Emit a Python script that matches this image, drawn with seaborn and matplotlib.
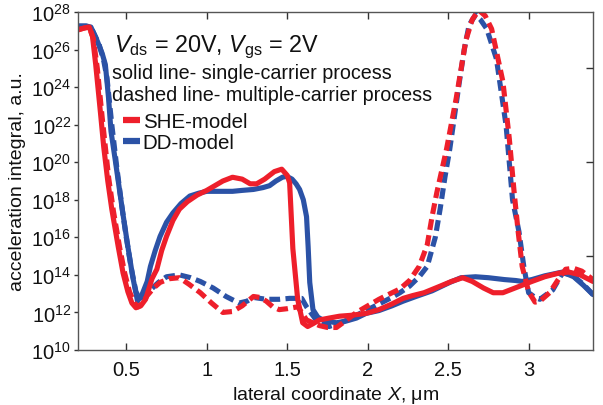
import numpy as np
import pandas as pd
import matplotlib
matplotlib.use("Agg")
import matplotlib.pyplot as plt
import seaborn as sns
from matplotlib.lines import Line2D
from matplotlib.ticker import FixedLocator, NullLocator, FuncFormatter

# ---- data (x in um, values given as log10 of the acceleration integral) ----
she_single_x = [0.20, 0.24, 0.27, 0.29, 0.31, 0.34, 0.36, 0.385, 0.41, 0.45, 0.48, 0.51, 0.535, 0.56,
                0.59, 0.62, 0.66, 0.69, 0.72, 0.75, 0.79, 0.83, 0.88, 0.94, 1.00, 1.05, 1.10, 1.16,
                1.22, 1.27, 1.31, 1.36, 1.42, 1.466, 1.50, 1.515, 1.535, 1.565, 1.596, 1.627, 1.66,
                1.70, 1.76, 1.825, 1.90, 1.99, 2.07, 2.15, 2.22, 2.28, 2.35, 2.45, 2.52, 2.59, 2.65,
                2.72, 2.78, 2.84, 2.90, 2.96, 3.02, 3.10, 3.19, 3.25, 3.32, 3.40]
she_single_log = [27.05, 27.15, 27.2, 26.7, 25.2, 22.6, 20.8, 19.0, 17.5, 15.5, 14.1, 13.1, 12.5, 12.25,
                  12.35, 12.7, 13.8, 14.3, 15.3, 16.05, 16.9, 17.5, 17.9, 18.25, 18.5, 18.75, 19.0, 19.2,
                  19.1, 18.85, 18.85, 19.1, 19.5, 19.63, 19.3, 18.9, 15.4, 12.7, 11.45, 11.25, 11.4,
                  11.6, 11.7, 11.8, 11.85, 11.95, 12.15, 12.45, 12.75, 12.9, 13.05, 13.4, 13.65, 13.85, 13.65,
                  13.3, 13.05, 13.05, 13.25, 13.45, 13.65, 13.9, 14.1, 14.15, 14.0, 13.65]

dd_single_x = [0.20, 0.25, 0.28, 0.32, 0.35, 0.37, 0.39, 0.405, 0.43, 0.45, 0.48, 0.51, 0.54, 0.57,
               0.60, 0.63, 0.65, 0.68, 0.71, 0.75, 0.79, 0.84, 0.895, 0.95, 1.00, 1.08, 1.16, 1.22,
               1.29, 1.35, 1.39, 1.43, 1.47, 1.497, 1.53, 1.555, 1.577, 1.60, 1.62, 1.63, 1.64, 1.66,
               1.69, 1.72, 1.77, 1.806, 1.87, 1.93, 1.99, 2.07, 2.15, 2.22, 2.30, 2.40, 2.51, 2.58,
               2.67, 2.75, 2.85, 2.92, 2.96, 3.02, 3.10, 3.21, 3.28, 3.34, 3.40]
dd_single_log = [27.25, 27.25, 27.2, 26.45, 25.8, 25.2, 23.4, 21.65, 20.2, 19.0, 17.2, 15.5, 13.9, 12.6,
                 13.0, 13.65, 14.45, 15.3, 16.05, 16.8, 17.3, 17.8, 18.2, 18.35, 18.45, 18.45, 18.45, 18.5,
                 18.55, 18.65, 18.75, 19.0, 19.2, 19.25, 19.1, 18.85, 18.55, 18.0, 17.1, 15.5, 13.6, 12.15,
                 11.75, 11.6, 11.5, 11.45, 11.55, 11.7, 11.95, 12.1, 12.35, 12.6, 12.85, 13.15, 13.6, 13.85,
                 13.9, 13.85, 13.75, 13.7, 13.65, 13.75, 13.95, 14.15, 13.9, 13.45, 12.95]

she_multi_x = [0.20, 0.24, 0.27, 0.295, 0.32, 0.35, 0.39, 0.42, 0.46, 0.49, 0.52, 0.55, 0.575, 0.60,
               0.63, 0.67, 0.71, 0.77, 0.83, 0.89, 0.96, 1.03, 1.10, 1.16, 1.22, 1.29, 1.33, 1.37,
               1.41, 1.45, 1.50, 1.565, 1.59, 1.62, 1.70, 1.75, 1.806, 1.87, 1.93, 1.99, 2.07, 2.14,
               2.20, 2.26, 2.32, 2.37, 2.40, 2.43, 2.49, 2.55, 2.61, 2.65, 2.69, 2.73, 2.77, 2.84,
               2.88, 2.91, 2.935, 2.96, 3.00, 3.04, 3.07, 3.13, 3.18, 3.23, 3.28, 3.33, 3.40]
she_multi_log = [27.05, 27.15, 27.2, 26.6, 25.0, 22.4, 19.2, 17.4, 15.4, 14.1, 13.1, 12.5, 12.3, 12.5,
                 12.9, 13.3, 13.6, 13.8, 13.85, 13.5, 13.05, 12.5, 12.0, 12.05, 12.35, 12.85, 12.8, 12.6,
                 12.3, 12.15, 12.2, 12.3, 12.0, 11.6, 11.3, 11.2, 11.2, 11.6, 12.0, 12.3, 12.7, 13.0,
                 13.25, 13.7, 14.45, 15.6, 17.1, 18.4, 20.7, 23.4, 26.5, 27.6, 28.1, 27.8, 27.1, 24.3,
                 21.25, 18.4, 16.3, 14.45, 13.1, 12.55, 12.6, 13.05, 13.7, 14.3, 14.35, 14.2, 13.75]

dd_multi_x = [0.20, 0.25, 0.28, 0.33, 0.36, 0.38, 0.41, 0.44, 0.47, 0.50, 0.53, 0.56, 0.585, 0.62,
              0.65, 0.70, 0.75, 0.83, 0.90, 0.96, 1.04, 1.12, 1.20, 1.25, 1.29, 1.37, 1.45, 1.515,
              1.59, 1.62, 1.68, 1.76, 1.85, 1.93, 1.99, 2.07, 2.15, 2.20, 2.26, 2.32, 2.37, 2.42,
              2.45, 2.48, 2.51, 2.57, 2.60, 2.63, 2.67, 2.70, 2.74, 2.80, 2.86, 2.90, 2.94, 2.97,
              3.00, 3.04, 3.07, 3.15, 3.21, 3.27, 3.34, 3.40]
dd_multi_log = [27.25, 27.25, 27.2, 26.3, 25.4, 24.5, 22.0, 19.8, 17.8, 16.0, 14.4, 13.1, 12.7, 13.0,
                13.2, 13.6, 13.9, 14.0, 13.85, 13.65, 13.3, 12.85, 12.5, 12.6, 12.8, 12.7, 12.7, 12.75,
                12.75, 12.3, 11.6, 11.25, 11.5, 11.85, 12.1, 12.45, 12.8, 13.05, 13.4, 13.9, 14.45, 16.0,
                17.5, 19.2, 20.7, 24.3, 26.0, 27.3, 27.85, 27.6, 27.1, 25.5, 21.95, 18.0, 16.3, 14.45,
                13.05, 12.8, 12.7, 13.2, 14.1, 14.0, 13.5, 12.95]

y_tick_exps = [10, 12, 14, 16, 18, 20, 22, 24, 26, 28]
x_ticks = [0.5, 1, 1.5, 2, 2.5, 3]
x_tick_labels = ["0.5", "1", "1.5", "2", "2.5", "3"]

RED = "#ee1f2b"
BLUE = "#2b52a6"

sns.set_theme(style="white")
plt.rcParams["font.family"] = ["Liberation Sans", "DejaVu Sans"]
plt.rcParams["mathtext.fontset"] = "custom"
plt.rcParams["mathtext.rm"] = "Liberation Sans"
plt.rcParams["mathtext.it"] = "Liberation Sans:italic"
plt.rcParams["mathtext.bf"] = "Liberation Sans:bold"
plt.rcParams["lines.solid_joinstyle"] = "round"
plt.rcParams["lines.dash_joinstyle"] = "round"

frames = []
for model, proc, xs, ls in [("DD", "single", dd_single_x, dd_single_log),
                            ("DD", "multi", dd_multi_x, dd_multi_log),
                            ("SHE", "single", she_single_x, she_single_log),
                            ("SHE", "multi", she_multi_x, she_multi_log)]:
    frames.append(pd.DataFrame({"x": xs, "y": 10.0 ** np.array(ls),
                                "model": model, "process": proc,
                                "line": model + "-" + proc}))
df = pd.concat(frames, ignore_index=True)

fig = plt.figure(figsize=(6.03, 4.06), dpi=100)
ax = fig.add_axes([78 / 603, 1 - 351 / 406, 515 / 603, 338 / 406])

order = ["DD-single", "DD-multi", "SHE-single", "SHE-multi"]
for name in order:
    sub = df[df["line"] == name]
    model, proc = name.split("-")
    sns.lineplot(data=sub, x="x", y="y", ax=ax, estimator=None, sort=False,
                 color=RED if model == "SHE" else BLUE, linewidth=3.7,
                 linestyle="-" if proc == "single" else (0, (2.1, 1.05)),
                 legend=False)

ax.set_yscale("log")
ax.set_xlim(0.2, 3.4)
ax.set_ylim(1e10, 1e28)
ax.yaxis.set_major_locator(FixedLocator([10.0 ** e for e in y_tick_exps]))
ax.yaxis.set_minor_locator(NullLocator())
ax.yaxis.set_major_formatter(FuncFormatter(lambda v, p: r"$10^{%d}$" % round(np.log10(v))))
ax.set_xticks(x_ticks)
ax.set_xticklabels(x_tick_labels)

for s in ax.spines.values():
    s.set_color("#555555")
    s.set_linewidth(1.0)
ax.tick_params(axis="x", which="major", direction="in", top=True, bottom=True,
               length=5, width=1, color="#333333", labelsize=14.5, pad=7, labelcolor="#111111")
ax.tick_params(axis="y", which="major", direction="out", left=True, right=False,
               length=3, width=1, color="#333333", labelsize=14.5, pad=2, labelcolor="#111111")

ax2 = ax.twinx()
ax2.set_yscale("log")
ax2.set_ylim(1e10, 1e28)
ax2.yaxis.set_major_locator(FixedLocator([1e15, 1e20, 1e25]))
ax2.yaxis.set_minor_locator(NullLocator())
ax2.tick_params(axis="y", direction="in", length=5, width=1, color="#333333", labelright=False)
for s in ax2.spines.values():
    s.set_visible(False)

ax.set_xlabel(r"lateral coordinate $\mathit{X}$, μm", fontsize=14, color="#111111", labelpad=4)
ax.set_ylabel("acceleration integral, a.u.", fontsize=14, color="#111111", labelpad=4)

ax.text(0.070, 0.900, r"$V_{\rm ds}$ = 20V, $V_{\rm gs}$ = 2V", transform=ax.transAxes,
        fontsize=16.8, va="center", ha="left", color="#111111")
ax.text(0.066, 0.822, "solid line- single-carrier process", transform=ax.transAxes,
        fontsize=14.2, va="center", ha="left", color="#111111")
ax.text(0.066, 0.757, "dashed line- multiple-carrier process", transform=ax.transAxes,
        fontsize=14.2, va="center", ha="left", color="#111111")

handles = [Line2D([0], [0], color=RED, lw=4.5, solid_capstyle="butt"),
           Line2D([0], [0], color=BLUE, lw=4.5, solid_capstyle="butt")]
leg = ax.legend(handles, ["SHE-model", "DD-model"], loc="upper left",
                bbox_to_anchor=(0.088, 0.705), frameon=False, fontsize=14.8,
                handlelength=0.8, handletextpad=0.15, labelspacing=0.12,
                borderpad=0, borderaxespad=0)
for t in leg.get_texts():
    t.set_color("#111111")

fig.savefig("out.png", dpi=100)
